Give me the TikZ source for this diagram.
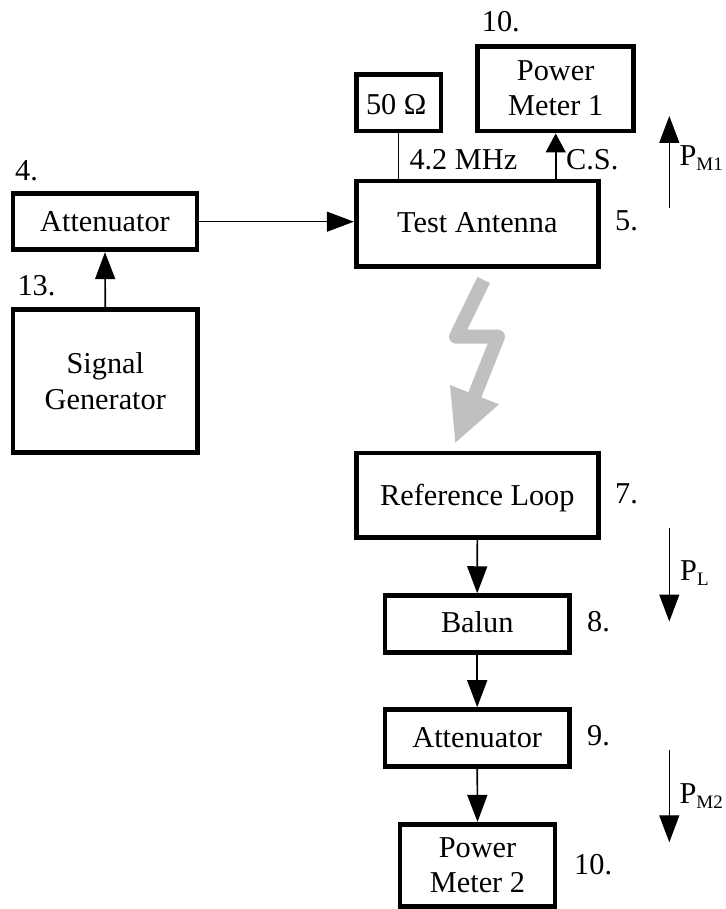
\documentclass[tikz,border=0pt]{standalone}
\usepackage{fontspec}
\setmainfont{Liberation Serif}
\usetikzlibrary{arrows.meta}
\definecolor{boltgray}{HTML}{C0C0C0}
\tikzset{
  blk/.style={draw=black,line width=4.7pt,inner sep=0pt,align=center,fill=white,
    font=\fontsize{30.3}{35}\selectfont},
  lab/.style={anchor=base west,inner sep=0pt,font=\fontsize{30.3}{35}\selectfont},
  conn/.style={draw=black,line width=1.6pt,-{Triangle[length=27pt,width=20pt]}},
  plain/.style={draw=black,line width=1.4pt},
  flow/.style={draw=black,line width=1.3pt,-{Triangle[length=27pt,width=20pt]}}
}
\newcommand{\subs}[1]{\raisebox{-5pt}{\fontsize{19}{19}\selectfont #1}}
\begin{document}
\begin{tikzpicture}[x=1pt,y=-1pt]
\useasboundingbox (0,0) rectangle (725,909);
% boxes
\node[blk,minimum width=156.2pt,minimum height=84.8pt] (pm1) at (555.7,88.7) {Power\\Meter 1\rule[-2pt]{0pt}{2pt}};
\node[blk,minimum width=84.8pt,minimum height=56.8pt,text height=24.6pt,text depth=0pt] (r50) at (398.7,102.7) {\hspace*{-5pt}50 Ω};
\node[blk,minimum width=242.2pt,minimum height=85.5pt,text height=17.2pt,text depth=0pt] (ta) at (477.3,223.7) {Test Antenna};
\node[blk,minimum width=184.1pt,minimum height=56.2pt,text height=18.6pt,text depth=0pt] (at4) at (105,221.7) {Attenuator};
\node[blk,minimum width=184.8pt,minimum height=143.2pt] (sg) at (105.3,381.2) {Signal\\[1pt]Generator};
\node[blk,minimum width=242.2pt,minimum height=84.8pt,text height=19.4pt,text depth=0pt] (rl) at (477.3,495.3) {Reference Loop};
\node[blk,minimum width=184.5pt,minimum height=57.2pt,text height=15.6pt,text depth=0pt] (bal) at (477.2,624.2) {Balun};
\node[blk,minimum width=184.5pt,minimum height=56.9pt,text height=19.4pt,text depth=0pt] (at9) at (477.2,738) {Attenuator};
\node[blk,minimum width=155.1pt,minimum height=82.5pt] (pm2) at (477.5,865.5) {Power\\Meter 2};
% connectors
\draw[plain] (r50.south) -- (r50.south |- ta.north);
\draw[conn,-{Triangle[length=19pt,width=20pt]}] (pm1.south |- ta.north) -- (pm1.south);
\draw[flow] (at4.east) -- (at4.east -| ta.west);
\draw[conn] (sg.north) -- (at4.south);
\draw[conn] (rl.south) -- (bal.north);
\draw[conn] (bal.south) -- (at9.north);
\draw[conn] (at9.south) -- (pm2.north);
% bolt
\fill[boltgray] (450,385) -- (499,404.3) -- (455.3,442.7) -- cycle;
\draw[boltgray,line width=14pt,line join=round] (483.7,280) -- (456,336.7) -- (498,336.7) -- (472,402);
% power arrows
\coordinate (pm1a) at (669.3,208);
\coordinate (pm1b) at (669.3,116);
\coordinate (pla) at (669.3,528);
\coordinate (plb) at (669.3,621.5);
\coordinate (pm2a) at (669.3,750);
\coordinate (pm2b) at (669.3,842.3);
\draw[flow] (pm1a) -- (pm1b);
\draw[flow] (pla) -- (plb);
\draw[flow] (pm2a) -- (pm2b);
% labels
\node[lab] (n10a) at (481.7,31.7) {10.};
\node[lab] (n4) at (15,180.7) {4.};
\node[lab] (n13) at (17.3,295.7) {13.};
\node[lab] (n5) at (615,230.7) {5.};
\node[lab] (n7) at (615,503) {7.};
\node[lab] (n8) at (587,631.7) {8.};
\node[lab] (n9) at (587,745) {9.};
\node[lab] (n10b) at (574,874) {10.};
\node[lab] (mhz) at (409.3,169.3) {4.2 MHz};
\node[lab] (cs) at (566,169.3) {C.S.};
\node[lab] (lm1) at (679.3,166) {P\subs{M1}};
\node[lab] (ll) at (680,580.7) {P\subs{L}};
\node[lab] (lm2) at (679.3,803.3) {P\subs{M2}};
\end{tikzpicture}
\end{document}
